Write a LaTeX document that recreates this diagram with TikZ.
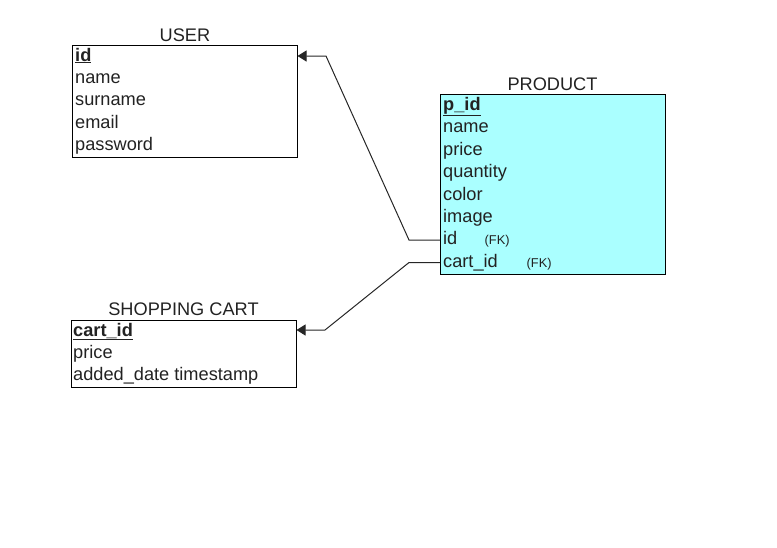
\documentclass[tikz,border=0pt]{standalone}
\usepackage{fontspec}
\setmainfont{Liberation Sans}
\usetikzlibrary{arrows.meta}
\definecolor{pcyan}{HTML}{AAFFFF}
\definecolor{txt}{HTML}{222222}
\begin{document}
\begin{tikzpicture}[x=1pt,y=-1pt,
  ent/.style={draw=black,line width=1pt},
  row/.style={anchor=base west,inner sep=0pt,text=txt,font=\fontsize{18.2}{21}\selectfont},
  ttl/.style={anchor=base,inner sep=0pt,text=txt,font=\fontsize{18.2}{21}\selectfont},
  fk/.style={anchor=base west,inner sep=0pt,text=txt,font=\fontsize{12.8}{15}\selectfont},
  rel/.style={draw=black!85,line width=1pt,-{Triangle[length=9pt,width=11pt]}}]
\useasboundingbox (0,0) rectangle (777,547);
% USER
\node[ttl] (usert) at (185,41.5) {USER};
\draw[ent] (72.5,45) rectangle (297.5,157);
\coordinate (userbox) at (297.5,56);
\node[row] (uid) at (75,61) {\underline{\textbf{id}}};
\node[row] (uname) at (75,83.4) {name};
\node[row] (usurname) at (75,105.8) {surname};
\node[row] (uemail) at (75,128.2) {email};
\node[row] (upass) at (75,150.6) {password};
% PRODUCT
\node[ttl] (prodt) at (552.5,90) {PRODUCT};
\draw[ent,fill=pcyan] (440,94.5) rectangle (665,274);
\node[row] (pid) at (443,110.5) {\underline{\textbf{p\_id}}};
\node[row] (pname) at (443,132.9) {name};
\node[row] (pprice) at (443,155.3) {price};
\node[row] (pqty) at (443,177.7) {quantity};
\node[row] (pcolor) at (443,200.1) {color};
\node[row] (pimage) at (443,222.5) {image};
\node[row] (pfkid) at (443,244.9) {id};
\node[fk] at (484.5,244.9) {(FK)};
\node[row] (pfkcart) at (443,267.3) {cart\_id};
\node[fk] at (526.5,267.3) {(FK)};
\coordinate (pin1) at (440,240);
\coordinate (pin2) at (440,262.5);
% SHOPPING CART
\node[ttl] (cartt) at (183.5,315.5) {SHOPPING CART};
\draw[ent] (71,320) rectangle (296.5,387.5);
\coordinate (cartbox) at (296.5,330);
\node[row] (cid) at (73,336) {\underline{\textbf{cart\_id}}};
\node[row] (cprice) at (73,358.4) {price};
\node[row] (cdate) at (73,380.8) {added\_date timestamp};
% relations
\draw[rel] (pin1) -- (409,240) -- (326,56) -- (userbox);
\draw[rel] (pin2) -- (409,262.5) -- (325,330) -- (cartbox);
\end{tikzpicture}
\end{document}
